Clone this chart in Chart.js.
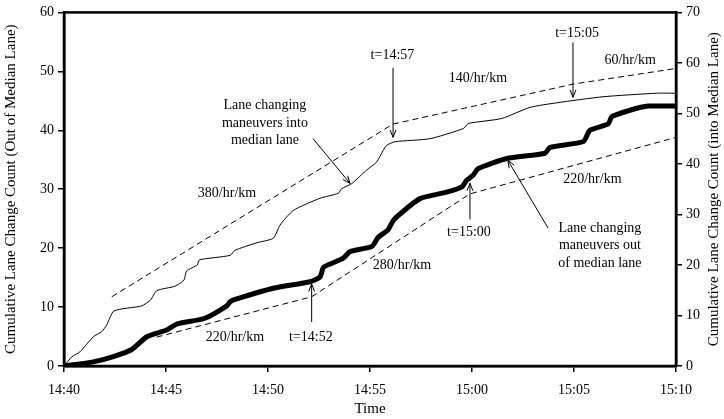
<!DOCTYPE html>
<html>
<head>
<meta charset="utf-8">
<script src="https://cdn.jsdelivr.net/npm/chart.js@4"></script>
<style>
  html, body { margin: 0; padding: 0; background: #fff; }
  #wrap { width: 724px; height: 419px; position: relative; }
</style>
</head>
<body>
<div id="wrap"><canvas id="laneChart"></canvas></div>
<script>
// minutes after 14:40
const xTickLabels = ["14:40", "14:45", "14:50", "14:55", "15:00", "15:05", "15:10"];

// into median lane (right axis)
const intoMin = [0, 0.38, 0.78, 1.44, 1.85, 2.09, 2.45, 3.81, 4.25, 4.54, 5.44, 5.88, 6.01, 6.53, 6.63, 8.14, 8.38, 9.45, 10.26, 10.59, 11.24, 12.55, 13.45, 13.61, 14.1, 14.84, 15.33, 15.65, 15.82, 16.23, 17.94, 19.57, 19.82, 21.46, 22.84, 24.15, 26.42, 29.05, 30];
const intoCount = [0, 1.8, 2.8, 5.8, 6.8, 8.1, 10.9, 11.9, 13.1, 14.9, 15.8, 17.0, 18.8, 20.0, 21.0, 21.9, 22.9, 24.4, 25.3, 27.9, 30.8, 33.2, 34.2, 35.1, 36.1, 38.8, 40.4, 42.7, 43.7, 44.4, 45.0, 47.0, 48.0, 49.0, 51.2, 52.1, 53.3, 54.0, 54.0];

// out of median lane (left axis)
const outMin = [0, 1.44, 2.42, 3.32, 4.08, 5.03, 5.52, 6.91, 7.98, 8.14, 8.38, 10.26, 12.06, 12.55, 12.71, 13.04, 13.69, 14.02, 15.1, 15.39, 15.88, 16.14, 16.47, 17.45, 18.76, 19.5, 19.74, 20.06, 20.31, 21.7, 23.58, 23.82, 25.46, 25.78, 26.68, 26.85, 27.75, 28.64, 30];
const outCount = [0, 0.7, 1.6, 2.8, 5.0, 6.1, 7.1, 8.1, 10.2, 10.9, 11.3, 13.2, 14.3, 15.1, 16.7, 17.3, 18.3, 19.4, 20.3, 21.8, 23.1, 24.7, 25.8, 28.4, 29.5, 30.4, 31.5, 32.4, 33.5, 35.2, 36.1, 37.1, 38.1, 40.0, 41.1, 42.3, 43.4, 44.1, 44.1];

// rate lines
const upperRateMin = [2.34, 16.13, 24.95, 30];
const upperRateCount = [13.7, 47.9, 55.8, 58.9];
const lowerRateMin = [4.54, 12.14, 19.9, 30];
const lowerRateCount = [4.9, 11.75, 29.2, 38.8];

// annotation text, positioned on x / left y scales
const notes = [
    { lines: ["Lane changing", "maneuvers into", "median lane"], x: 9.85, y: 44.2 },
    { lines: ["380/hr/km"], x: 7.99, y: 29.3 },
    { lines: ["t=14:57"], x: 16.1, y: 52.7 },
    { lines: ["140/hr/km"], x: 20.29, y: 48.8 },
    { lines: ["t=15:05"], x: 25.15, y: 56.4 },
    { lines: ["60/hr/km"], x: 27.75, y: 51.9 },
    { lines: ["220/hr/km"], x: 8.38, y: 4.9 },
    { lines: ["t=14:52"], x: 12.1, y: 4.9 },
    { lines: ["280/hr/km"], x: 16.57, y: 17.1 },
    { lines: ["t=15:00"], x: 19.85, y: 22.7 },
    { lines: ["220/hr/km"], x: 25.9, y: 31.7 },
    { lines: ["Lane changing", "maneuvers out", "of median lane"], x: 26.27, y: 23.4 }
];
const arrows = [
    { from: [12.2, 38.6], to: [14.02, 31.0] },
    { from: [16.13, 50.6], to: [16.13, 38.8] },
    { from: [24.95, 54.9], to: [24.95, 45.6] },
    { from: [12.14, 7.46], to: [12.14, 13.9] },
    { from: [19.9, 24.9], to: [19.9, 31.0] },
    { from: [23.73, 23.4], to: [21.76, 34.9] }
];

function toPoints(xs, ys) {
    return xs.map((x, i) => ({ x: x, y: ys[i] }));
}

const FONT = "'Liberation Serif', 'Times New Roman', serif";

const extras = {
    id: "extras",
    afterDraw(chart) {
        const ctx = chart.ctx;
        const a = chart.chartArea;
        const xs = chart.scales.x, ys = chart.scales.y;
        ctx.save();
        // frame
        ctx.strokeStyle = "#000";
        ctx.lineWidth = 2.5;
        ctx.strokeRect(a.left, a.top, a.right - a.left, a.bottom - a.top);

        // notes
        ctx.fillStyle = "#000";
        ctx.font = "14px " + FONT;
        ctx.textAlign = "center";
        ctx.textBaseline = "middle";
        notes.forEach(n => {
            const px = xs.getPixelForValue(n.x);
            let py = ys.getPixelForValue(n.y);
            n.lines.forEach((t, i) => ctx.fillText(t, px, py + i * 17.5));
        });

        // arrows
        ctx.lineWidth = 1;
        arrows.forEach(ar => {
            const x1 = xs.getPixelForValue(ar.from[0]), y1 = ys.getPixelForValue(ar.from[1]);
            const x2 = xs.getPixelForValue(ar.to[0]), y2 = ys.getPixelForValue(ar.to[1]);
            ctx.beginPath();
            ctx.moveTo(x1, y1);
            ctx.lineTo(x2, y2);
            const ang = Math.atan2(y2 - y1, x2 - x1);
            const len = 8, spread = 0.38;
            ctx.moveTo(x2 - len * Math.cos(ang - spread), y2 - len * Math.sin(ang - spread));
            ctx.lineTo(x2, y2);
            ctx.lineTo(x2 - len * Math.cos(ang + spread), y2 - len * Math.sin(ang + spread));
            ctx.stroke();
        });

        // right axis title, reading bottom to top
        ctx.font = "15px " + FONT;
        ctx.translate(714, (a.top + a.bottom) / 2);
        ctx.rotate(-Math.PI / 2);
        ctx.fillText("Cumulative Lane Change Count (into Median Lane)", 0, 0);
        ctx.restore();
    }
};

const ctx = document.getElementById("laneChart").getContext("2d");
new Chart(ctx, {
    type: "line",
    data: {
        datasets: [
            {
                label: "into median lane",
                data: toPoints(intoMin, intoCount),
                yAxisID: "y1",
                borderColor: "#000",
                borderWidth: 1,
                pointRadius: 0,
                tension: 0.2
            },
            {
                label: "out of median lane",
                data: toPoints(outMin, outCount),
                yAxisID: "y",
                borderColor: "#000",
                borderWidth: 5,
                borderJoinStyle: "round",
                borderCapStyle: "round",
                pointRadius: 0,
                tension: 0.2
            },
            {
                label: "upper rate",
                data: toPoints(upperRateMin, upperRateCount),
                yAxisID: "y1",
                borderColor: "#000",
                borderWidth: 1,
                borderDash: [6, 4],
                pointRadius: 0,
                tension: 0
            },
            {
                label: "lower rate",
                data: toPoints(lowerRateMin, lowerRateCount),
                yAxisID: "y",
                borderColor: "#000",
                borderWidth: 1,
                borderDash: [6, 4],
                pointRadius: 0,
                tension: 0
            }
        ]
    },
    options: {
        responsive: true,
        maintainAspectRatio: false,
        animation: false,
        layout: { padding: { top: 12, left: 0, right: 0, bottom: 0 } },
        plugins: { legend: { display: false }, tooltip: { enabled: false } },
        scales: {
            x: {
                type: "linear",
                min: 0,
                max: 30,
                afterFit: s => { s.height = 53; },
                ticks: {
                    stepSize: 5,
                    color: "#000",
                    font: { family: FONT, size: 14 },
                    padding: 10,
                    maxRotation: 0,
                    callback: v => xTickLabels[v / 5]
                },
                grid: { drawOnChartArea: false, color: "#000", tickLength: 6, lineWidth: 1.5 },
                border: { color: "#000", width: 2.5 },
                title: { display: true, text: "Time", color: "#000", font: { family: FONT, size: 15 }, padding: { top: 0, bottom: 1 } }
            },
            y: {
                position: "left",
                min: 0,
                max: 60,
                afterFit: s => { s.width = 64; },
                ticks: { stepSize: 10, color: "#000", font: { family: FONT, size: 14 }, padding: 4 },
                grid: { drawOnChartArea: false, color: "#000", tickLength: 6, lineWidth: 1.5 },
                border: { color: "#000", width: 2.5 },
                title: { display: true, text: "Cumulative Lane Change Count (Out of Median Lane)", color: "#000", font: { family: FONT, size: 15 }, padding: { top: 2, bottom: 0 } }
            },
            y1: {
                position: "right",
                min: 0,
                max: 70,
                afterFit: s => { s.width = 48; },
                ticks: { stepSize: 10, color: "#000", font: { family: FONT, size: 14 }, padding: 4 },
                grid: { drawOnChartArea: false, color: "#000", tickLength: 6, lineWidth: 1.5 },
                border: { color: "#000", width: 2.5 }
            }
        }
    },
    plugins: [extras]
});
</script>
</body>
</html>
